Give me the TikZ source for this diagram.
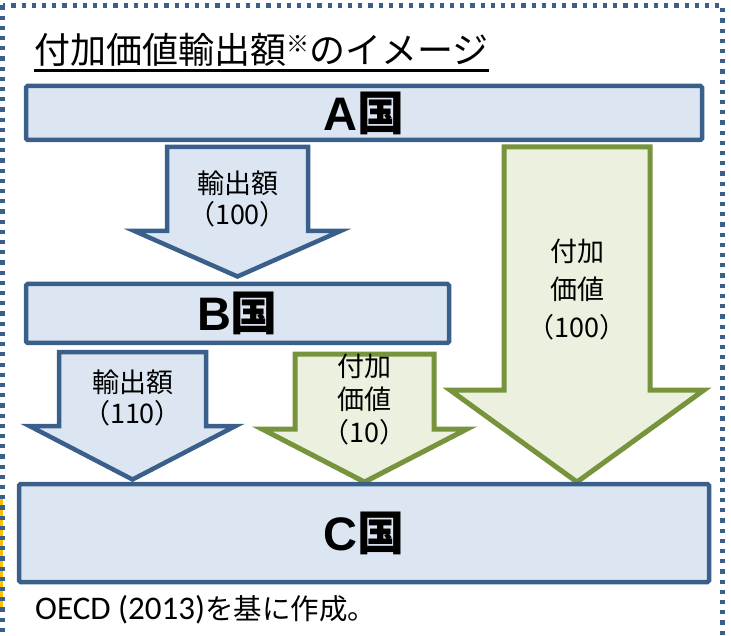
\documentclass[tikz,border=0pt]{standalone}
\usepackage{fontspec}
\setmainfont{Noto Sans CJK JP}
\newfontfamily\calfont{Carlito}
\newfontfamily\arifont{Liberation Sans}
\definecolor{bstroke}{HTML}{3A5F8B}
\definecolor{bfill}{HTML}{DCE6F2}
\definecolor{gstroke}{HTML}{77933C}
\definecolor{gfill}{HTML}{EBF1DE}
\definecolor{dotblue}{HTML}{3A5F8B}
\definecolor{ylw}{HTML}{FFC000}
\begin{document}
\begin{tikzpicture}[x=1pt,y=-1pt,
  country/.style={draw=bstroke, fill=bfill, line width=4.5pt, rounded corners=1.5pt, inner sep=0pt,
    font=\fontsize{47}{47}\selectfont\bfseries},
  barrow/.style={draw=bstroke, fill=bfill, line width=4.5pt, line join=miter, miter limit=12},
  garrow/.style={draw=gstroke, fill=gfill, line width=5pt, line join=miter, miter limit=12},
  lbl/.style={align=center, inner sep=0pt, font=\fontsize{27}{31}\selectfont},
]
\useasboundingbox (0,0) rectangle (731,636);
% yellow mark at left
\draw[ylw, line width=3pt] (1.5,495) -- (1.5,609);
% dotted frame
\draw[dotblue, line width=4.5pt, dash pattern=on 4.2pt off 6pt] (2.5,5.5) rectangle (722.5,720);

% title
\node[anchor=base west, inner sep=0pt, font=\fontsize{36}{36}\selectfont] (title) at (34,64)
  {付加価値輸出額\raisebox{11pt}{\fontsize{23}{23}\selectfont ※}のイメージ};
\draw[line width=2.5pt] ([yshift=-6.5pt]title.base west) -- ([yshift=-6.5pt]title.base east);

% arrows
\draw[barrow] (167,147) -- (308,147) -- (308,231) -- (340.5,231) -- (237.5,276.5) -- (134.5,231) -- (167,231) -- cycle;
\draw[barrow] (59,352) -- (206,352) -- (206,426) -- (235.5,426) -- (132.5,479.5) -- (29.5,426) -- (59,426) -- cycle;
\draw[garrow] (295,354) -- (434,354) -- (434,429) -- (467,429) -- (364.5,482) -- (262,429) -- (295,429) -- cycle;
\draw[garrow] (504,147) -- (650,147) -- (650,390) -- (704,390) -- (577,482) -- (450,390) -- (504,390) -- cycle;

% country boxes
\node[country, minimum width=676pt, minimum height=54pt] (A) at (364,113) {{\arifont A}国};
\node[country, minimum width=423pt, minimum height=59pt] (B) at (237.5,313.5) {{\arifont B}国};
\node[country, minimum width=690pt, minimum height=98pt] (C) at (364,533) {{\arifont C}国};

% arrow labels
\node[lbl] (l1) at (237.5,199) {輸出額\\（100）};
\node[lbl] (l2) at (132.5,398) {輸出額\\（110）};
\node[lbl, font=\fontsize{27}{33}\selectfont] (l3) at (364.5,400) {付加\\価値\\（10）};
\node[lbl, font=\fontsize{27}{38}\selectfont] (l4) at (577,290) {付加\\価値\\（100）};

% source
\node[anchor=base west, inner sep=0pt] (src) at (35,619)
  {{\calfont\fontsize{33}{33}\selectfont OECD (2013)}{\fontsize{28.5}{28.5}\selectfont を基に作成。}};
\end{tikzpicture}
\end{document}
